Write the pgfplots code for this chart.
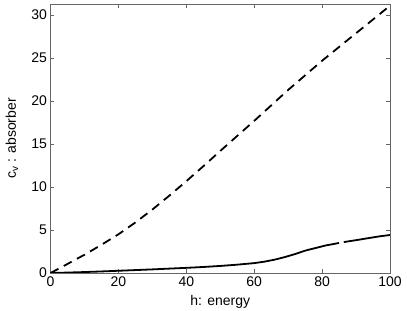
\documentclass[border=0pt]{standalone}
\usepackage{pgfplots}
\pgfplotsset{compat=1.18}
\usepackage{fontspec}
\setmainfont{Liberation Sans}
\begin{document}
\begin{tikzpicture}
\begin{axis}[
  scale only axis,
  width=339.5bp, height=269bp,
  xmin=0, xmax=100, ymin=0, ymax=31.3,
  xtick={0,20,...,100}, ytick={0,5,...,30},
  tick align=inside,
  major tick length=4bp,
  axis line style={black!60, line width=0.8bp},
  every tick/.style={black!60, line width=0.6bp},
  tick label style={font=\fontsize{14bp}{16bp}\selectfont, black},
  label style={font=\fontsize{14bp}{16bp}\selectfont, black},
  /pgf/number format/assume math mode=true,
  xlabel={h: energy},
  ylabel={c\textsubscript{v} : absorber},
  xlabel style={at={(axis description cs:0.5,-0.1078)}, anchor=center},
  ylabel style={at={(axis description cs:-0.1134,0.5)}, anchor=center},
  unbounded coords=jump,
]
\addplot[black, line width=1.8bp, dash pattern=on 9bp off 6bp] coordinates {
(0,0) (2,0.42) (5,1.05) (8,1.7) (10,2.12) (15,3.28) (20,4.5) (25,5.88) (30,7.38)
(35,9.0) (40,10.68) (45,12.42) (50,14.2) (55,15.95) (60,17.7) (65,19.5) (70,21.3)
(75,23.0) (80,24.7) (85,26.3) (90,27.9) (95,29.5) (100,31.1)
};
\addplot[black, line width=1.8bp] coordinates {
(0,0) (5,0.05) (10,0.11) (15,0.18) (20,0.26) (25,0.34) (30,0.42) (35,0.51)
(40,0.6) (45,0.7) (50,0.82) (55,0.97) (60,1.15) (63,1.32) (66,1.55) (69,1.85)
(72,2.2) (75,2.6) (78,2.9) (81,3.2) (84,3.42) (85.0,3.5)
(85.5,nan)
(86.4,3.6) (90,3.82) (94,4.08) (97,4.27) (100,4.42)
};
\end{axis}
\pgfresetboundingbox
\path[use as bounding box] ([xshift=-50.5bp,yshift=-38bp]current axis.south west) rectangle ([xshift=17bp,yshift=4bp]current axis.north east);
\end{tikzpicture}
\end{document}
